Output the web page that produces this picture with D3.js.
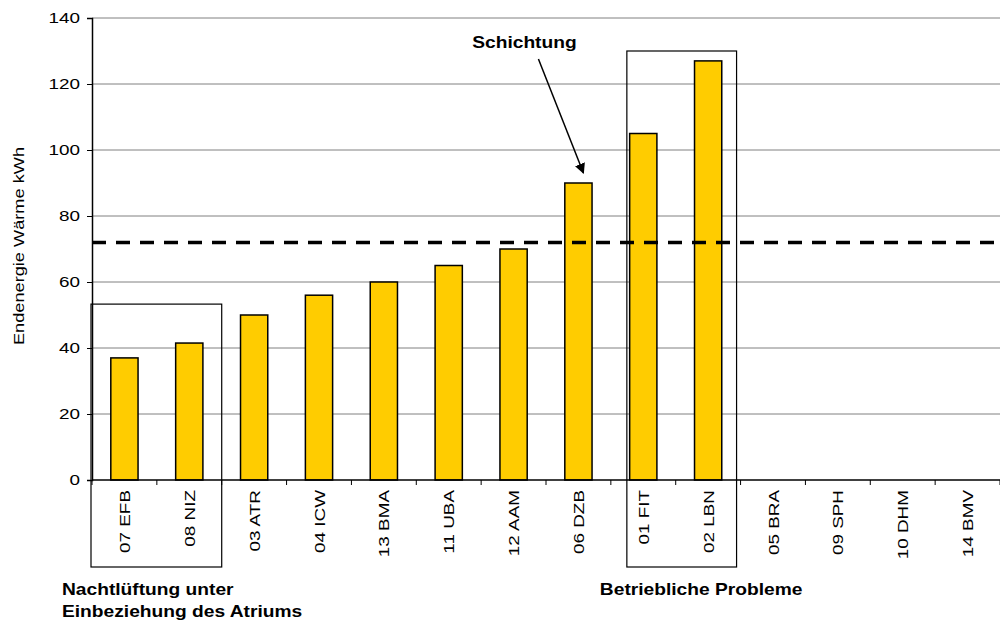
<!DOCTYPE html>
<html>
<head>
<meta charset="utf-8">
<script src="https://cdn.jsdelivr.net/npm/d3@7"></script>
<style>
  body { margin: 0; background: #fff; }
  svg { font-family: Arial, "Liberation Sans", sans-serif; }
  .grid line { stroke: #808080; stroke-width: 1px; }
</style>
</head>
<body>
<div class="graph"></div>
<script>
// chart values
const categories = ["07 EFB", "08 NIZ", "03 ATR", "04 ICW", "13 BMA", "11 UBA", "12 AAM",
                    "06 DZB", "01 FIT", "02 LBN", "05 BRA", "09 SPH", "10 DHM", "14 BMV"];
const values = [37, 41.5, 50, 56, 60, 65, 70, 90, 105, 127, 0, 0, 0, 0];
const yTicks = [0, 20, 40, 60, 80, 100, 120, 140];
const refLevel = 72;
const yLabel = "Endenergie Wärme kWh";
// annotation groups: first/last category and box top value
const groups = [
  {from: "07 EFB", to: "08 NIZ", top: 53.3, lines: ["Nachtlüftung unter", "Einbeziehung des Atriums"]},
  {from: "01 FIT", to: "02 LBN", top: 130, lines: ["Betriebliche Probleme"]}
];
const arrowNote = {label: "Schichtung", target: "06 DZB"};

// the original text is rendered wider than our fonts
const wide = "scale(1.26,1)";

let margin = {top: 18, right: 0, bottom: 142, left: 92},
    width = 1000 - margin.left - margin.right,
    height = 622 - margin.top - margin.bottom;

let svg = d3.select(".graph").append("svg")
    .attr("width", 1000)
    .attr("height", 622);

svg.append("defs").append("marker")
    .attr("id", "arr")
    .attr("viewBox", "0 0 10 10")
    .attr("refX", 9).attr("refY", 5)
    .attr("markerWidth", 7).attr("markerHeight", 7)
    .attr("orient", "auto")
    .append("path").attr("d", "M0,0 L10,5 L0,10 z").attr("fill", "#000");

let g = svg.append("g")
    .attr("transform", "translate(" + margin.left + "," + margin.top + ")");

let x = d3.scaleBand().domain(categories).range([0, width]).padding(0);
let y = d3.scaleLinear().domain([0, 140]).range([height, 0]);

// gridlines
g.append("g").attr("class", "grid")
    .selectAll("line")
    .data(yTicks.filter(d => d > 0))
    .enter().append("line")
    .attr("x1", 0).attr("x2", width)
    .attr("y1", d => y(d)).attr("y2", d => y(d));

// y axis
let yAxis = g.append("g")
    .call(d3.axisLeft(y).tickValues(yTicks).tickSize(5));
yAxis.select(".domain").attr("stroke", "#000").attr("stroke-width", 1.5);
yAxis.selectAll("text")
    .attr("x", -9.5)
    .attr("transform", wide)
    .style("font-size", "15px").attr("fill", "#000");

// bars
let bw = x.bandwidth() * 0.42;
g.selectAll(".bar")
    .data(values.map((v, i) => ({c: categories[i], v: v})).filter(d => d.v > 0))
    .enter().append("rect")
    .attr("class", "bar")
    .attr("x", d => x(d.c) + (x.bandwidth() - bw) / 2)
    .attr("y", d => y(d.v))
    .attr("width", bw)
    .attr("height", d => height - y(d.v))
    .attr("fill", "#FFCC00")
    .attr("stroke", "#000")
    .style("stroke-width", "1.5px");

// x axis with ticks at band boundaries
let bounds = categories.map(c => x(c)).concat([width]);
let xg = g.append("g").attr("transform", "translate(0," + height + ")");
xg.append("line").attr("x1", 0).attr("x2", width).attr("stroke", "#000").attr("stroke-width", 1.5);
xg.selectAll(".tk").data(bounds).enter().append("line")
    .attr("x1", d => d).attr("x2", d => d)
    .attr("y1", 0).attr("y2", 5)
    .attr("stroke", "#000");
xg.selectAll(".lbl").data(categories).enter().append("text")
    .attr("transform", d => "translate(" + (x(d) + x.bandwidth() / 2 + 5.5) + ",10) rotate(-90) " + wide)
    .attr("text-anchor", "end")
    .style("font-size", "15px")
    .text(d => d);

// reference dashed line
g.append("line")
    .attr("x1", 0).attr("x2", width)
    .attr("y1", y(refLevel)).attr("y2", y(refLevel))
    .attr("stroke", "#000")
    .attr("stroke-width", 3.5)
    .attr("stroke-dasharray", "14,10");

// group boxes and captions
let boxBottom = height + 87;
groups.forEach((gr, i) => {
  let x0 = x(gr.from) + (i === 0 ? -1 : 16),
      x1 = x(gr.to) + x.bandwidth() + (i === 0 ? 0 : -4);
  g.append("rect")
    .attr("x", x0).attr("y", y(gr.top))
    .attr("width", x1 - x0).attr("height", boxBottom - y(gr.top))
    .attr("fill", "none").attr("stroke", "#000").attr("stroke-width", 1.2);
  let lx = i === 0 ? -30 : x0 - 27;
  let t = g.append("text")
    .attr("transform", "translate(" + lx + "," + (height + 115) + ") scale(1.2,1)")
    .style("font-size", "16px").style("font-weight", "bold");
  gr.lines.forEach((l, k) => t.append("tspan")
    .attr("x", 0).attr("dy", k === 0 ? 0 : 22).text(l));
});

// arrow annotation
let tx = x(arrowNote.target) + x.bandwidth() / 2;
let idx = categories.indexOf(arrowNote.target);
g.append("text")
    .attr("transform", "translate(" + (tx - 54) + ",30) scale(1.2,1)")
    .attr("text-anchor", "middle")
    .style("font-size", "16px").style("font-weight", "bold")
    .text(arrowNote.label);
g.append("line")
    .attr("x1", tx - 40).attr("y1", 41)
    .attr("x2", tx + 5).attr("y2", y(values[idx]) - 10)
    .attr("stroke", "#000").attr("stroke-width", 1.5)
    .attr("marker-end", "url(#arr)");

// y label
svg.append("text")
    .attr("transform", "translate(24,246) rotate(-90) scale(1.3,1)")
    .attr("text-anchor", "middle")
    .attr("fill", "#000")
    .style("font-size", "14px")
    .text(yLabel);
</script>
</body>
</html>
